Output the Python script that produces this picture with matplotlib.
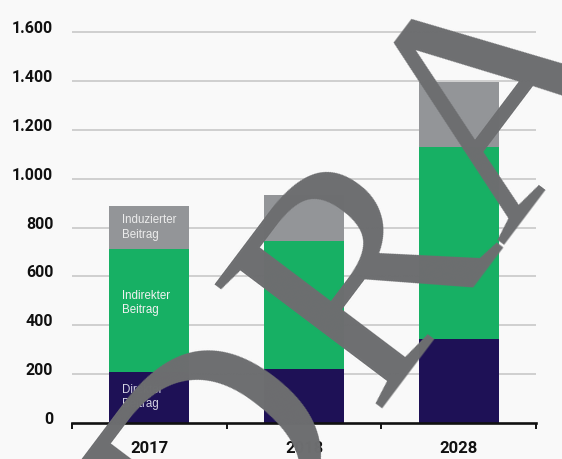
import matplotlib
matplotlib.use("Agg")
import matplotlib.pyplot as plt
import numpy as np
from matplotlib.transforms import ScaledTranslation

# ---- data ----
years = ["2017", "2018", "2028"]
direkt = [210, 221, 343]
indirekt = [501, 524, 786]
induziert = [179, 189, 267]
yticks = [0, 200, 400, 600, 800, 1000, 1200, 1400, 1600]
ytick_labels = ["0", "200", "400", "600", "800", "1.000", "1.200", "1.400", "1.600"]
seg_labels = ["Direkter\nBeitrag", "Indirekter\nBeitrag", "Induzierter\nBeitrag"]
watermark_parts = ["D", "RAFT"]

c_navy = "#1e1156"
c_green = "#17b064"
c_gray = "#939598"
bg = "#f9f9f9"
tick_font = "Roboto"

fig = plt.figure(figsize=(5.62, 4.59), dpi=100, facecolor=bg)
ax = fig.add_axes([72/562, 36/459, 464/562, 0.8726])
ax.set_facecolor(bg)

x = np.arange(len(years))
w = 0.516
d = np.array(direkt)
i_ = np.array(indirekt)
u = np.array(induziert)
ax.bar(x, d, w, color=c_navy, zorder=3)
ax.bar(x, i_, w, bottom=d, color=c_green, zorder=3)
ax.bar(x, u, w, bottom=d + i_, color=c_gray, zorder=3)

ax.set_xlim(-0.5, 2.5)
ax.set_ylim(0, 1640)

# gridlines
for yv in yticks[1:]:
    ax.axhline(yv, color="#c8c8c8", lw=1.2, zorder=1)

# segment labels in first bar
tx = -w/2 + 12.5/155
kw = dict(ha="left", va="center", fontsize=8.3, family="Liberation Sans",
          zorder=4, linespacing=1.25)
ax.text(tx, d[0]/2, seg_labels[0], color="#d6d4e4", **kw)
ax.text(tx, d[0] + i_[0]*0.56, seg_labels[1], color="#f2f2f2", **kw)
ax.text(tx, d[0] + i_[0] + u[0]*0.5, seg_labels[2], color="#ececec", **kw)

# spines
for s in ["top", "right", "left"]:
    ax.spines[s].set_visible(False)
ax.spines["bottom"].set_linewidth(1.9)
ax.spines["bottom"].set_color("#111111")
ax.spines["bottom"].set_zorder(5)

# x ticks: boundaries as major, labels as minor
ax.set_xticks([-0.5, 0.5, 1.5, 2.5])
ax.set_xticklabels([])
ax.tick_params(axis="x", which="major", direction="out", length=4.5, width=1.4, color="#111111")
ax.set_xticks(x, minor=True)
ax.set_xticklabels(years, minor=True, family=tick_font, fontweight="bold",
                   fontsize=12, color="#111111")
ax.tick_params(axis="x", which="minor", length=0, pad=13)

# y ticks
ax.set_yticks(yticks)
ax.set_yticklabels(ytick_labels, family=tick_font, fontweight="bold",
                   fontsize=11.5, color="#111111")
ax.tick_params(axis="y", length=0, pad=13.5)
off = ScaledTranslation(0, 5/100, fig.dpi_scale_trans)
for t in ax.yaxis.get_major_ticks():
    t.label1.set_transform(t.label1.get_transform() + off)

# watermark
wm = dict(rotation=53, rotation_mode="anchor", ha="left", va="baseline",
          fontsize=230, family="Liberation Serif", color="#6d6e70", zorder=20)
fig.text(224/562, (459-606)/459, watermark_parts[0], **wm)
fig.text(372/562, (459-410)/459, watermark_parts[1], **wm)

fig.savefig("out.png", dpi=100, facecolor=bg)
